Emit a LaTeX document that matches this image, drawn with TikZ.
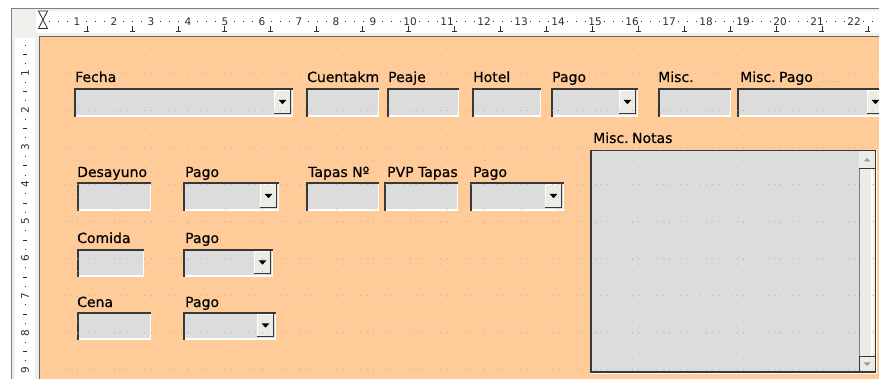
\documentclass[tikz,border=0pt]{standalone}
\usepackage{fontspec}
\setmainfont{DejaVu Sans}
\newfontfamily\lblfont[FakeBold=0.6]{DejaVu Sans}
\usetikzlibrary{calc}
\definecolor{formbg}{HTML}{FFCC99}
\definecolor{fieldbg}{HTML}{DCDCDC}
\definecolor{btnbg}{HTML}{ECECE4}
\definecolor{framebg}{HTML}{EFEFEB}
\definecolor{darkedge}{HTML}{383838}
\definecolor{gridc}{HTML}{A8A8A8}
\definecolor{rulerc}{HTML}{303030}
\tikzset{
  fbox/.style={fill=fieldbg, draw=none, inner sep=0, outer sep=0},
  btnbox/.style={fill=btnbg, draw=none, inner sep=0, outer sep=0},
  dk/.style={draw=darkedge, line width=1.8pt},
  lt/.style={draw=white, line width=1.5pt},
  lbl/.style={anchor=base west, inner sep=0, font=\lblfont\fontsize{14}{16}\selectfont},
  rnum/.style={inner sep=0, font=\fontsize{10.5}{12}\selectfont, text=rulerc},
  gridv/.style={gridc, opacity=.6, line width=1pt, dash pattern=on 1pt off 11.37pt},
  gridh/.style={gridc, opacity=.6, line width=1pt, dash pattern=on 1pt off 5.17pt},
}
\newcommand\txtbox[5]{%
  \node[fbox, anchor=north west, minimum width=#4pt, minimum height=#5pt] (#1) at (#2,#3) {};
  \draw[lt] ([yshift=0.75pt]#1.south west) -- ([xshift=-0.75pt,yshift=0.75pt]#1.south east) -- ([xshift=-0.75pt]#1.north east);
  \draw[dk] ([xshift=0.9pt]#1.south west) -- ([xshift=0.9pt,yshift=-0.9pt]#1.north west) -- ([yshift=-0.9pt]#1.north east);
}
\newcommand\combo[5]{%
  \txtbox{#1}{#2}{#3}{#4}{#5}
  \node[btnbox, anchor=north east, minimum width=17pt, minimum height=#5pt-5pt] (#1btn) at ([xshift=-2pt,yshift=-2pt]#1.north east) {};
  \draw[white, line width=1pt] ([xshift=0.5pt]#1btn.south west) -- ([xshift=0.5pt,yshift=-0.5pt]#1btn.north west) -- ([yshift=-0.5pt]#1btn.north east);
  \draw[darkedge, line width=1.2pt] ([yshift=0.6pt]#1btn.south west) -- ([xshift=-0.6pt,yshift=0.6pt]#1btn.south east) -- ([xshift=-0.6pt]#1btn.north east);
  \fill[black] ([xshift=-3.8pt,yshift=2pt]#1btn.center) -- ([xshift=3.8pt,yshift=2pt]#1btn.center) -- ([yshift=-2.2pt]#1btn.center) -- cycle;
}
\begin{document}
\begin{tikzpicture}[x=1pt,y=-1pt]
\useasboundingbox (0,0) rectangle (879,379);
\clip (0,0) rectangle (879,379);
% window frame and rulers
\fill[white] (0,0) rectangle (879,379);
\fill[framebg] (11,8) rectangle (879,379);
\draw[gray, line width=1pt] (11,379) -- (11,8.5) -- (879,8.5);
\fill[white] (36,11) rectangle (879,33);
\fill[white] (15,38) rectangle (35,379);
\fill[formbg] (39,36) rectangle (879,379);
\draw[black!60, line width=1pt] (39.5,379) -- (39.5,36.5) -- (879,36.5);
% hourglass
\draw[rulerc, line width=0.8pt, fill=white] (38.5,11) -- (47.5,11) -- (38.5,28.5) -- (47.5,28.5) -- cycle;
% horizontal ruler
\foreach \n in {1,...,22} \node[rnum] (h\n) at (40+37*\n, 22) {\n};
\foreach \n in {0,...,22} \foreach \q in {0.25,0.5,0.75}
  \fill[rulerc] (39.5+37*\n+37*\q, 21.5) rectangle ++(1,1);
\foreach \k in {1,...,18}
  \draw[rulerc, line width=0.8pt] (41+45.94*\k, 26.5) -- (41+45.94*\k, 31) (41+45.94*\k-2.5, 31) -- (41+45.94*\k+2.5, 31);
% vertical ruler
\foreach \n in {1,...,9} \node[rnum, rotate=90] (v\n) at (25, 36+37.1*\n) {\n};
\foreach \n in {0,...,9} {
  \fill[rulerc] (24.5, 35.5+37.1*\n+9.27) rectangle ++(1,1);
  \fill[rulerc] (24.5, 35.5+37.1*\n+27.8) rectangle ++(1,1);
  \draw[rulerc, line width=0.8pt] (23, 36+37.1*\n+18.55) -- (27, 36+37.1*\n+18.55);
}
% fields
\combo{fecha}{74}{88}{219}{29}
\txtbox{cuentakm}{306}{88}{73}{29}
\txtbox{peaje}{387}{88}{72}{29}
\txtbox{hotel}{472}{88}{69}{29}
\combo{pagoA}{551}{88}{87}{29}
\txtbox{misc}{658}{88}{73}{29}
\combo{miscpago}{737}{88}{149}{29}
\txtbox{desayuno}{77}{182}{74}{29}
\combo{pagoB}{183}{182}{96}{29}
\txtbox{tapasno}{306}{182}{73}{29}
\txtbox{pvptapas}{384}{182}{74}{29}
\combo{pagoC}{470}{182}{94}{29}
\txtbox{comida}{77}{249}{67}{28}
\combo{pagoD}{183}{249}{90}{28}
\txtbox{cena}{77}{312}{74}{28}
\combo{pagoE}{183}{312}{93}{28}
% notes box with scrollbar
\node[fbox, anchor=north west, minimum width=286pt, minimum height=223pt] (notas) at (590,150) {};
\node[btnbox, anchor=north east, minimum width=16pt, minimum height=221pt] (scroll) at ([xshift=-1pt,yshift=-1pt]notas.north east) {};
\fill[white] ([xshift=-4pt]scroll.north east) rectangle ([xshift=-2pt]scroll.south east);
\node[btnbox, anchor=north west, minimum width=16pt, minimum height=18pt] (sup) at (scroll.north west) {};
\node[btnbox, anchor=south west, minimum width=16pt, minimum height=16pt] (sdown) at (scroll.south west) {};
\draw[darkedge, line width=1pt] ([yshift=0.5pt]sup.south west) -- ([yshift=0.5pt]sup.south east);
\draw[gray, line width=1pt] ([xshift=0.5pt]sup.south west) -- ([xshift=0.5pt]sdown.north west);
\draw[darkedge, line width=1pt] ([xshift=0.5pt]sdown.south west) -- ([xshift=0.5pt,yshift=-0.5pt]sdown.north west) -- ([yshift=-0.5pt]sdown.north east);
\fill[black!40] ([xshift=-3.5pt,yshift=-1.5pt]sup.center) -- ([xshift=3.5pt,yshift=-1.5pt]sup.center) -- ([yshift=2pt]sup.center) -- cycle;
\fill[black!40] ([xshift=-3.5pt,yshift=1.5pt]sdown.center) -- ([xshift=3.5pt,yshift=1.5pt]sdown.center) -- ([yshift=-2pt]sdown.center) -- cycle;
\draw[white, line width=1pt] ([yshift=-0.5pt]notas.south west) -- ([xshift=0.5pt,yshift=-0.5pt]notas.south east) -- ([xshift=0.5pt]notas.north east);
\draw[darkedge, line width=1.5pt] ([xshift=0.75pt,yshift=0.75pt]notas.south west) rectangle ([xshift=-0.75pt,yshift=-0.75pt]notas.north east);
% grid
\foreach \n in {1,...,23} \draw[gridv] (40+37*\n, 48.37) -- (40+37*\n, 379);
\foreach \n in {1,...,9} \draw[gridh] (45.67, 36+37.1*\n) -- (879, 36+37.1*\n);
% labels
\node[lbl] (lfecha) at (75,82) {Fecha};
\node[lbl] (lcuentakm) at (307,82) {Cuentakm};
\node[lbl] (lpeaje) at (388,82) {Peaje};
\node[lbl] (lhotel) at (473,82) {Hotel};
\node[lbl] (lpagoA) at (552,82) {Pago};
\node[lbl] (lmisc) at (658,82) {Misc.};
\node[lbl] (lmiscpago) at (740,82) {Misc.\kern-1pt\ Pago};
\coordinate (dotsA) at (820,82);
\coordinate (dotsB) at (839,82);
\draw[gridc, opacity=.7, line width=1pt, dash pattern=on 1pt off 2pt] (dotsA) -- (dotsB);
\node[lbl] (ldesayuno) at (77,177) {Desayuno};
\node[lbl] (lpagoB) at (185,177) {Pago};
\node[lbl] (ltapasno) at (308,177) {Tapas Nº};
\node[lbl] (lpvptapas) at (387,177) {PVP Tapas};
\node[lbl] (lpagoC) at (473,177) {Pago};
\node[lbl] (lcomida) at (77,243) {Comida};
\node[lbl] (lpagoD) at (185,243) {Pago};
\node[lbl] (lcena) at (77,307) {Cena};
\node[lbl] (lpagoE) at (185,307) {Pago};
\node[lbl] (lnotas) at (593,143) {Misc.\kern-1pt\ Notas};
\end{tikzpicture}
\end{document}
